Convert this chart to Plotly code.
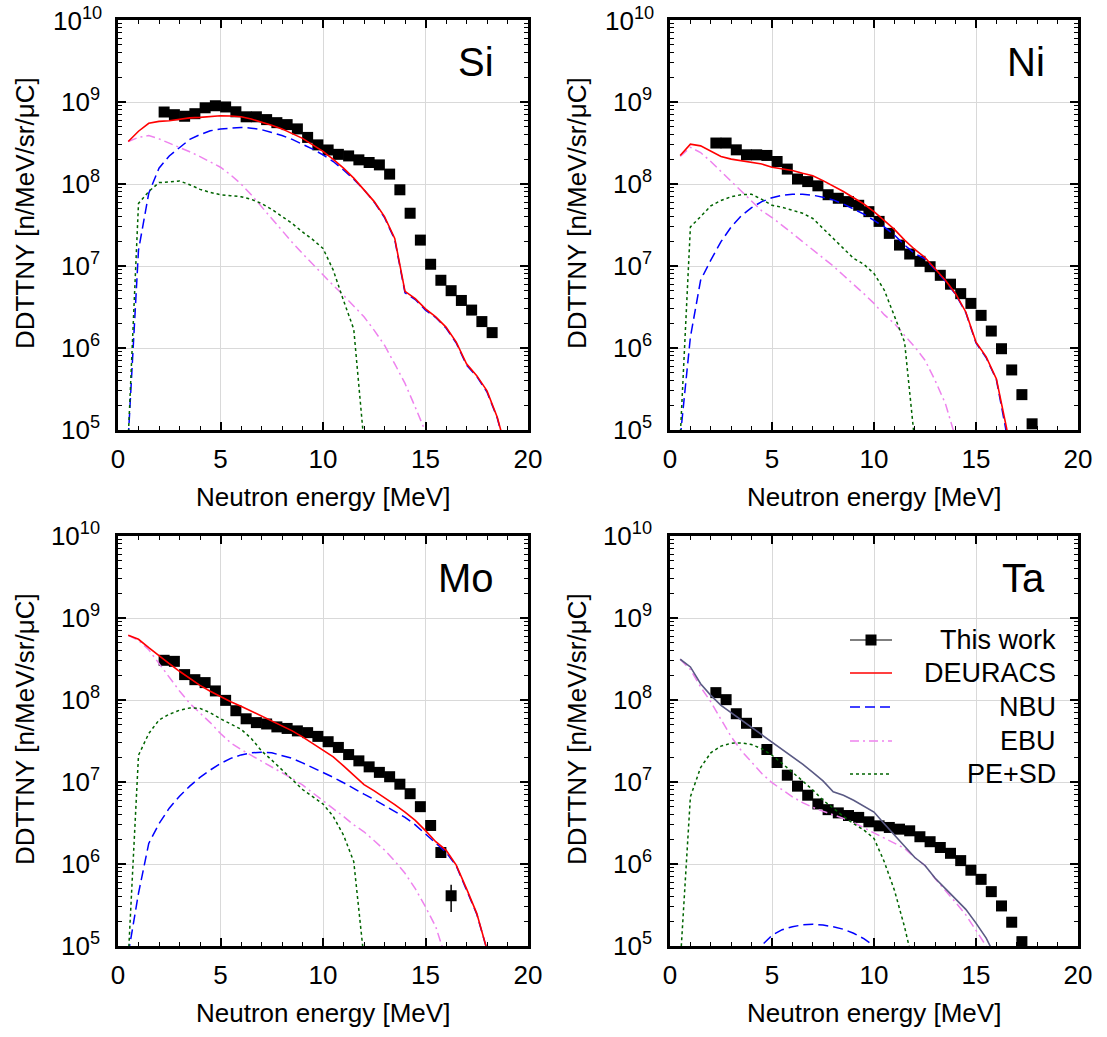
import plotly.graph_objects as go

# ---------------- data ----------------
E_MODEL = [0.5, 1.0, 1.5, 2.0, 2.5, 3.0, 3.5, 4.0, 4.5, 5.0, 5.5, 6.0, 6.5, 7.0, 7.5,
           8.0, 8.5, 9.0, 9.5, 10.0, 10.5, 11.0, 11.5, 12.0, 12.5, 13.0, 13.5, 14.0,
           14.5, 15.0, 15.5, 16.0, 16.5, 17.0, 17.5, 18.0, 18.5, 19.0]

# Si
SI_E_EXP = [2.25, 2.75, 3.25, 3.75, 4.25, 4.75, 5.25, 5.75, 6.25, 6.75, 7.25, 7.75, 8.25,
            8.75, 9.25, 9.75, 10.25, 10.75, 11.25, 11.75, 12.25, 12.75, 13.25, 13.75,
            14.25, 14.75, 15.25, 15.75, 16.25, 16.75, 17.25, 17.75, 18.25]
SI_EXP = [7.55e8, 7.0e8, 6.7e8, 7.2e8, 8.5e8, 9.0e8, 8.7e8, 7.6e8, 6.6e8, 6.6e8, 6.1e8,
          5.6e8, 5.3e8, 4.7e8, 3.7e8, 3.0e8, 2.6e8, 2.3e8, 2.2e8, 1.97e8, 1.83e8, 1.71e8,
          1.32e8, 8.5e7, 4.4e7, 2.07e7, 1.05e7, 6.7e6, 5.0e6, 3.8e6, 2.9e6, 2.1e6, 1.54e6]
SI_DEURACS = [3.3e8, 4.4e8, 5.5e8, 5.8e8, 5.9e8, 6.2e8, 6.4e8, 6.5e8, 6.7e8, 6.8e8, 6.75e8,
              6.6e8, 6.2e8, 5.7e8, 5.2e8, 4.7e8, 4.1e8, 3.6e8, 3.0e8, 2.5e8, 2.0e8, 1.56e8,
              1.18e8, 8.6e7, 6.1e7, 4.0e7, 2.17e7, 4.9e6, 4.0e6, 3.0e6, 2.4e6, 1.8e6,
              1.18e6, 6.4e5, 4.6e5, 3.0e5, 1.43e5, 5e4]
SI_NBU = [8e4, 1.56e7, 7.7e7, 1.56e8, 2.2e8, 2.8e8, 3.5e8, 4.0e8, 4.45e8, 4.7e8, 4.85e8,
          4.9e8, 4.8e8, 4.6e8, 4.25e8, 3.9e8, 3.5e8, 3.06e8, 2.66e8, 2.27e8, 1.88e8, 1.48e8,
          1.14e8, 8.5e7, 6.0e7, 3.9e7, 2.1e7, 4.7e6, 3.9e6, 2.9e6, 2.35e6, 1.75e6, 1.15e6,
          6.2e5, 4.5e5, 2.9e5, 1.4e5, 4.8e4]
SI_EBU = [3.3e8, 3.7e8, 3.9e8, 3.55e8, 3.15e8, 2.8e8, 2.47e8, 2.16e8, 1.88e8, 1.6e8, 1.29e8,
          1.0e8, 7.4e7, 5.3e7, 3.7e7, 2.7e7, 1.94e7, 1.42e7, 1.05e7, 7.7e6, 5.8e6, 4.4e6,
          3.2e6, 2.4e6, 1.64e6, 1.08e6, 6.4e5, 3.7e5, 1.9e5, 9.5e4]
SI_PESD = [8e4, 5.8e7, 8.1e7, 1.04e8, 1.06e8, 1.09e8, 9.8e7, 8.6e7, 7.9e7, 7.4e7, 7.2e7,
           7.0e7, 6.5e7, 5.8e7, 4.9e7, 4.0e7, 3.3e7, 2.6e7, 2.1e7, 1.64e7, 8.9e6, 3.8e6,
           1.7e6, 7e4]

# Ni
NI_E_EXP = [2.25, 2.75, 3.25, 3.75, 4.25, 4.75, 5.25, 5.75, 6.25, 6.75, 7.25, 7.75, 8.25,
            8.75, 9.25, 9.75, 10.25, 10.75, 11.25, 11.75, 12.25, 12.75, 13.25, 13.75,
            14.25, 14.75, 15.25, 15.75, 16.25, 16.75, 17.25, 17.75]
NI_EXP = [3.16e8, 3.16e8, 2.61e8, 2.27e8, 2.27e8, 2.23e8, 1.88e8, 1.52e8, 1.15e8, 1.07e8,
          9.5e7, 7.4e7, 6.7e7, 6.1e7, 5.5e7, 4.6e7, 3.5e7, 2.5e7, 1.8e7, 1.40e7, 1.14e7,
          9.8e6, 7.7e6, 6.0e6, 4.6e6, 3.5e6, 2.5e6, 1.61e6, 9.8e5, 5.4e5, 2.7e5, 1.19e5]
NI_DEURACS = [2.23e8, 3.06e8, 2.92e8, 2.5e8, 2.17e8, 2.01e8, 1.92e8, 1.86e8, 1.75e8, 1.6e8,
              1.53e8, 1.46e8, 1.35e8, 1.26e8, 1.10e8, 9.5e7, 8.1e7, 6.8e7, 5.7e7, 4.6e7,
              3.6e7, 2.8e7, 2.07e7, 1.59e7, 1.27e7, 9.3e6, 6.7e6, 4.6e6, 2.75e6, 1.18e6,
              7.8e5, 4.2e5, 1.05e5, 2e4]
NI_NBU = [8e4, 1.36e6, 6.7e6, 1.18e7, 1.98e7, 3.0e7, 4.1e7, 5.15e7, 6.1e7, 6.8e7, 7.3e7,
          7.5e7, 7.5e7, 7.3e7, 6.9e7, 6.4e7, 5.7e7, 5.0e7, 4.3e7, 3.6e7, 3.0e7, 2.39e7,
          1.8e7, 1.42e7, 1.22e7, 9.0e6, 6.5e6, 4.5e6, 2.7e6, 1.15e6, 7.6e5, 4.1e5, 1.0e5, 2e4]
NI_EBU = [2.17e8, 2.8e8, 2.42e8, 1.88e8, 1.42e8, 1.07e8, 8.1e7, 6.1e7, 4.7e7, 3.9e7, 3.16e7,
          2.5e7, 1.98e7, 1.58e7, 1.27e7, 1.0e7, 7.7e6, 6.0e6, 4.6e6, 3.5e6, 2.55e6, 1.98e6,
          1.43e6, 1.03e6, 7.1e5, 4.0e5, 2.1e5, 8e4]
NI_PESD = [8e4, 3.0e7, 4.0e7, 5.4e7, 6.3e7, 7.0e7, 7.4e7, 7.5e7, 6.5e7, 5.5e7, 5.2e7, 4.8e7,
           4.4e7, 3.8e7, 2.9e7, 2.17e7, 1.64e7, 1.24e7, 1.05e7, 8.1e6, 5.1e6, 2.5e6, 1.18e6, 7e4]

# Mo
MO_E_EXP = [2.25, 2.75, 3.25, 3.75, 4.25, 4.75, 5.25, 5.75, 6.25, 6.75, 7.25, 7.75, 8.25,
            8.75, 9.25, 9.75, 10.25, 10.75, 11.25, 11.75, 12.25, 12.75, 13.25, 13.75,
            14.25, 14.75, 15.25, 15.75, 16.25]
MO_EXP = [3.05e8, 2.96e8, 2.04e8, 1.77e8, 1.63e8, 1.29e8, 9.9e7, 7.4e7, 5.9e7, 5.3e7, 5.1e7,
          4.7e7, 4.5e7, 4.2e7, 4.0e7, 3.6e7, 3.1e7, 2.64e7, 2.16e7, 1.81e7, 1.53e7, 1.31e7,
          1.16e7, 9.4e6, 7.2e6, 5.0e6, 2.95e6, 1.38e6, 4.1e5]
MO_ERR = [0, 0, 0, 0, 0, 0, 0, 0, 0, 0, 0, 0, 0, 0, 0, 0, 0, 0, 0, 0, 0, 0, 0, 0, 0, 0, 0, 0,
          1.5e5]
MO_DEURACS = [6.15e8, 5.5e8, 4.35e8, 3.45e8, 2.78e8, 2.24e8, 1.82e8, 1.51e8, 1.28e8, 1.09e8,
              9.5e7, 8.4e7, 7.3e7, 6.3e7, 5.5e7, 4.8e7, 4.2e7, 3.55e7, 2.94e7, 2.44e7, 2.03e7,
              1.57e7, 1.21e7, 9.3e6, 7.8e6, 6.5e6, 5.3e6, 4.3e6, 3.4e6, 2.55e6, 1.87e6,
              1.48e6, 9.7e5, 5.0e5, 2.5e5, 9e4]
MO_NBU = [8e4, 4.4e5, 1.78e6, 3.1e6, 4.8e6, 6.7e6, 8.9e6, 1.14e7, 1.40e7, 1.68e7, 1.94e7,
          2.14e7, 2.27e7, 2.31e7, 2.27e7, 2.12e7, 1.94e7, 1.71e7, 1.50e7, 1.31e7, 1.14e7,
          9.8e6, 8.3e6, 7.1e6, 6.1e6, 5.2e6, 4.4e6, 3.7e6, 3.0e6, 2.32e6, 1.75e6, 1.39e6,
          9.5e5, 4.9e5, 2.45e5, 9e4]
MO_EBU = [6.15e8, 5.35e8, 4.1e8, 2.78e8, 1.86e8, 1.29e8, 9.1e7, 7.0e7, 5.3e7, 3.9e7, 3.0e7,
          2.49e7, 2.12e7, 1.81e7, 1.53e7, 1.32e7, 1.10e7, 9.2e6, 7.4e6, 5.9e6, 4.8e6, 3.8e6,
          3.0e6, 2.47e6, 1.92e6, 1.48e6, 1.09e6, 7.7e5, 5.0e5, 3.0e5, 1.72e5, 7e4]
MO_PESD = [7e4, 2.12e7, 3.9e7, 5.7e7, 6.7e7, 7.5e7, 8.0e7, 7.9e7, 7.0e7, 5.9e7, 5.1e7, 4.4e7,
           3.4e7, 2.4e7, 1.85e7, 1.42e7, 1.07e7, 8.1e6, 6.6e6, 5.4e6, 3.8e6, 2.25e6, 1.07e6, 7e4]

# Ta
TA_E_EXP = [2.25, 2.75, 3.25, 3.75, 4.25, 4.75, 5.25, 5.75, 6.25, 6.75, 7.25, 7.75, 8.25,
            8.75, 9.25, 9.75, 10.25, 10.75, 11.25, 11.75, 12.25, 12.75, 13.25, 13.75,
            14.25, 14.75, 15.25, 15.75, 16.25, 16.75, 17.25]
TA_EXP = [1.23e8, 1.01e8, 6.8e7, 5.2e7, 4.0e7, 2.49e7, 1.73e7, 1.21e7, 8.9e6, 6.9e6, 5.4e6,
          4.6e6, 4.2e6, 3.9e6, 3.7e6, 3.27e6, 2.92e6, 2.79e6, 2.66e6, 2.54e6, 2.15e6, 1.87e6,
          1.59e6, 1.35e6, 1.10e6, 8.4e5, 6.5e5, 4.6e5, 3.08e5, 1.95e5, 1.13e5]
TA_DEURACS = [3.14e8, 2.53e8, 1.58e8, 1.14e8, 8.6e7, 7.0e7, 5.7e7, 4.6e7, 3.8e7, 3.1e7, 2.5e7,
              2.03e7, 1.65e7, 1.31e7, 1.03e7, 7.6e6, 6.9e6, 6.0e6, 5.1e6, 4.3e6, 3.1e6,
              2.25e6, 1.66e6, 1.2e6, 9.6e5, 6.7e5, 5.0e5, 3.7e5, 2.8e5, 1.9e5, 1.25e5, 7e4]
TA_NBU_E = [4.0, 4.5, 5.0, 5.5, 6.0, 6.5, 7.0, 7.5, 8.0, 8.5, 9.0, 9.5, 10.0, 10.5]
TA_NBU = [5e4, 1.02e5, 1.35e5, 1.58e5, 1.72e5, 1.81e5, 1.84e5, 1.8e5, 1.72e5, 1.6e5, 1.43e5,
          1.23e5, 1.0e5, 7.5e4]
TA_EBU = [3.14e8, 2.35e8, 1.44e8, 9.5e7, 5.8e7, 3.56e7, 2.4e7, 1.76e7, 1.27e7, 9.8e6, 8.0e6,
          6.6e6, 5.6e6, 4.9e6, 4.4e6, 4.0e6, 3.6e6, 3.2e6, 2.77e6, 2.4e6, 2.09e6, 1.82e6,
          1.55e6, 1.2e6, 9.6e5, 6.6e5, 4.8e5, 3.4e5, 2.4e5, 1.57e5, 1.0e5, 5e4]
TA_PESD = [6e4, 6.6e6, 1.50e7, 2.27e7, 2.74e7, 2.97e7, 3.0e7, 2.86e7, 2.54e7, 2.12e7, 1.68e7,
           1.33e7, 1.03e7, 8.0e6, 6.0e6, 4.8e6, 3.8e6, 3.1e6, 2.6e6, 2.05e6, 1.07e6, 4.8e5,
           1.7e5, 5e4]

PANEL_NAMES = ["Si", "Ni", "Mo", "Ta"]
SERIES_NAMES = ["This work", "DEURACS", "NBU", "EBU", "PE+SD"]
X_TICKS = [0, 5, 10, 15, 20]
Y_TICKS = [1e5, 1e6, 1e7, 1e8, 1e9, 1e10]
Y_TICK_TEXT = ["10<sup>5</sup>", "10<sup>6</sup>", "10<sup>7</sup>", "10<sup>8</sup>",
               "10<sup>9</sup>", "10<sup>10</sup>"]

# ---------------- styling / layout ----------------
W, H = 1107, 1037
FONT = "Liberation Sans, Arial, Helvetica, sans-serif"
C_RED, C_BLUE, C_VIOLET, C_GREEN = "#ff0000", "#0000ff", "#ee82ee", "#006400"
DASH_NBU = "10px,5px"
DASH_EBU = "9px,4px,2px,4px"
DASH_PESD = "3px,3px"


def pxx(p):
    return p / W


def pxy(p):
    return 1 - p / H


X_DOM = [[pxx(118), pxx(528)], [pxx(670), pxx(1078)]]
Y_DOM = [[pxy(430), pxy(20)], [pxy(946), pxy(536)]]

panels = [
    dict(name="Si", e=SI_E_EXP, exp=SI_EXP, err=None, deu=SI_DEURACS, nbu=(E_MODEL, SI_NBU),
         ebu=SI_EBU, pesd=SI_PESD, deu_color=C_RED),
    dict(name="Ni", e=NI_E_EXP, exp=NI_EXP, err=None, deu=NI_DEURACS, nbu=(E_MODEL, NI_NBU),
         ebu=NI_EBU, pesd=NI_PESD, deu_color=C_RED),
    dict(name="Mo", e=MO_E_EXP, exp=MO_EXP, err=MO_ERR, deu=MO_DEURACS, nbu=(E_MODEL, MO_NBU),
         ebu=MO_EBU, pesd=MO_PESD, deu_color=C_RED),
    dict(name="Ta", e=TA_E_EXP, exp=TA_EXP, err=None, deu=TA_DEURACS, nbu=(TA_NBU_E, TA_NBU),
         ebu=TA_EBU, pesd=TA_PESD, deu_color="#5a5a84"),
]

fig = go.Figure()
layout = dict(width=W, height=H, margin=dict(l=0, r=0, t=0, b=0, autoexpand=False),
              paper_bgcolor="white", plot_bgcolor="white", showlegend=False,
              font=dict(family=FONT, size=26, color="black"))

annotations = []
shapes = []

for i, p in enumerate(panels):
    n = i + 1
    xa = "x" if n == 1 else f"x{n}"
    ya = "y" if n == 1 else f"y{n}"
    col = i % 2
    row = i // 2
    layout[f"xaxis{'' if n == 1 else n}"] = dict(
        domain=X_DOM[col], anchor=ya, range=[0, 20], tickvals=X_TICKS, automargin=False,
        ticklabeloverflow="allow",
        ticks="inside", ticklen=8, tickwidth=1.5, tickcolor="black",
        minor=dict(dtick=1, tick0=0, ticks="inside", ticklen=4, tickwidth=1.2,
                   tickcolor="black", showgrid=False),
        showline=True, linewidth=2.5, linecolor="black", mirror="allticks",
        showgrid=True, gridcolor="#d9d9d9", gridwidth=1.3, zeroline=False,
        tickfont=dict(size=26, family=FONT, color="black"), ticklabelstandoff=4)
    # top row: the 10^10 label is placed as an annotation so it stays inside the page
    nt = len(Y_TICKS) if row == 1 else len(Y_TICKS) - 1
    layout[f"yaxis{'' if n == 1 else n}"] = dict(
        domain=Y_DOM[row], anchor=xa, type="log", range=[5, 10],
        tickmode="array", tickvals=Y_TICKS[:nt], ticktext=Y_TICK_TEXT[:nt],
        automargin=False, ticklabeloverflow="allow",
        ticks="inside", ticklen=8, tickwidth=1.5, tickcolor="black",
        minor=dict(dtick="D1", ticks="inside", ticklen=4, tickwidth=1.2,
                   tickcolor="black", showgrid=False),
        showline=True, linewidth=2.5, linecolor="black", mirror="allticks",
        showgrid=True, gridcolor="#d9d9d9", gridwidth=1.3, zeroline=False,
        tickfont=dict(size=26, family=FONT, color="black"), ticklabelstandoff=10)
    if row == 0:
        lab_x = 104 if col == 0 else 656
        annotations.append(dict(text=Y_TICK_TEXT[-1], x=pxx(lab_x), y=pxy(1), xref="paper",
                                yref="paper", showarrow=False, xanchor="right",
                                yanchor="top", font=dict(size=26, family=FONT,
                                                         color="black")))

    # experimental points
    err = None
    if p["err"] is not None:
        err = dict(type="data", array=p["err"], visible=True, color="black",
                   thickness=1.5, width=0)
    fig.add_trace(go.Scatter(x=p["e"], y=p["exp"], mode="markers", xaxis=xa, yaxis=ya,
                             marker=dict(symbol="square", size=11, color="black"),
                             error_y=err, name=SERIES_NAMES[0]))
    # model curves
    ne, nv = p["nbu"]
    fig.add_trace(go.Scatter(x=ne[:len(nv)], y=nv, mode="lines", xaxis=xa, yaxis=ya,
                             line=dict(color=C_BLUE, width=1.5, dash=DASH_NBU),
                             name=SERIES_NAMES[2]))
    fig.add_trace(go.Scatter(x=E_MODEL[:len(p["ebu"])], y=p["ebu"], mode="lines", xaxis=xa,
                             yaxis=ya, line=dict(color=C_VIOLET, width=1.5, dash=DASH_EBU),
                             name=SERIES_NAMES[3]))
    fig.add_trace(go.Scatter(x=E_MODEL[:len(p["pesd"])], y=p["pesd"], mode="lines", xaxis=xa,
                             yaxis=ya, line=dict(color=C_GREEN, width=1.5, dash=DASH_PESD),
                             name=SERIES_NAMES[4]))
    fig.add_trace(go.Scatter(x=E_MODEL[:len(p["deu"])], y=p["deu"], mode="lines", xaxis=xa,
                             yaxis=ya, line=dict(color=p["deu_color"], width=1.6),
                             name=SERIES_NAMES[1]))

    # axis titles
    cx = (118 + 528) / 2 if col == 0 else (670 + 1078) / 2
    xt_y = 497 if row == 0 else 1013
    annotations.append(dict(text="Neutron energy [MeV]", x=pxx(cx), y=pxy(xt_y),
                            xref="paper", yref="paper", showarrow=False,
                            xanchor="center", yanchor="middle",
                            font=dict(size=26, family=FONT, color="black")))
    yt_x = 25 if col == 0 else 577
    yt_y = 213 if row == 0 else 729
    annotations.append(dict(text="DDTTNY [n/MeV/sr/\u03bcC]", x=pxx(yt_x), y=pxy(yt_y),
                            xref="paper", yref="paper", showarrow=False, textangle=-90,
                            xanchor="center", yanchor="middle",
                            font=dict(size=26, family=FONT, color="black")))
    # panel label
    lx = 496 if col == 0 else 1047
    ly = 62 if row == 0 else 578
    annotations.append(dict(text=p["name"], x=pxx(lx), y=pxy(ly), xref="paper",
                            yref="paper", showarrow=False, xanchor="right",
                            yanchor="middle", font=dict(size=40, family=FONT, color="black")))

# manual legend in Ta panel
shapes.append(dict(type="rect", xref="paper", yref="paper", x0=pxx(833), x1=pxx(1064),
                   y0=pxy(790), y1=pxy(622), fillcolor="white", line=dict(width=0),
                   layer="between"))
leg_rows = [640, 673, 707, 741, 774]
leg_styles = [
    dict(color="black", width=1.2, dash="solid"),
    dict(color=C_RED, width=1.6, dash="solid"),
    dict(color=C_BLUE, width=1.5, dash=DASH_NBU),
    dict(color=C_VIOLET, width=1.5, dash=DASH_EBU),
    dict(color=C_GREEN, width=1.5, dash=DASH_PESD),
]
for name, ry, st in zip(SERIES_NAMES, leg_rows, leg_styles):
    shapes.append(dict(type="line", xref="paper", yref="paper", x0=pxx(850), x1=pxx(892),
                       y0=pxy(ry), y1=pxy(ry), line=st, layer="above"))
    annotations.append(dict(text=name, x=pxx(1058), y=pxy(ry), xref="paper", yref="paper",
                            showarrow=False, xanchor="right", yanchor="middle",
                            font=dict(size=27, family=FONT, color="black")))
shapes.append(dict(type="rect", xref="paper", yref="paper", x0=pxx(865.5), x1=pxx(876.5),
                   y0=pxy(645.5), y1=pxy(634.5), fillcolor="black", line=dict(width=0),
                   layer="above"))

layout["annotations"] = annotations
layout["shapes"] = shapes
fig.update_layout(**layout)
fig.write_html("out.html")
